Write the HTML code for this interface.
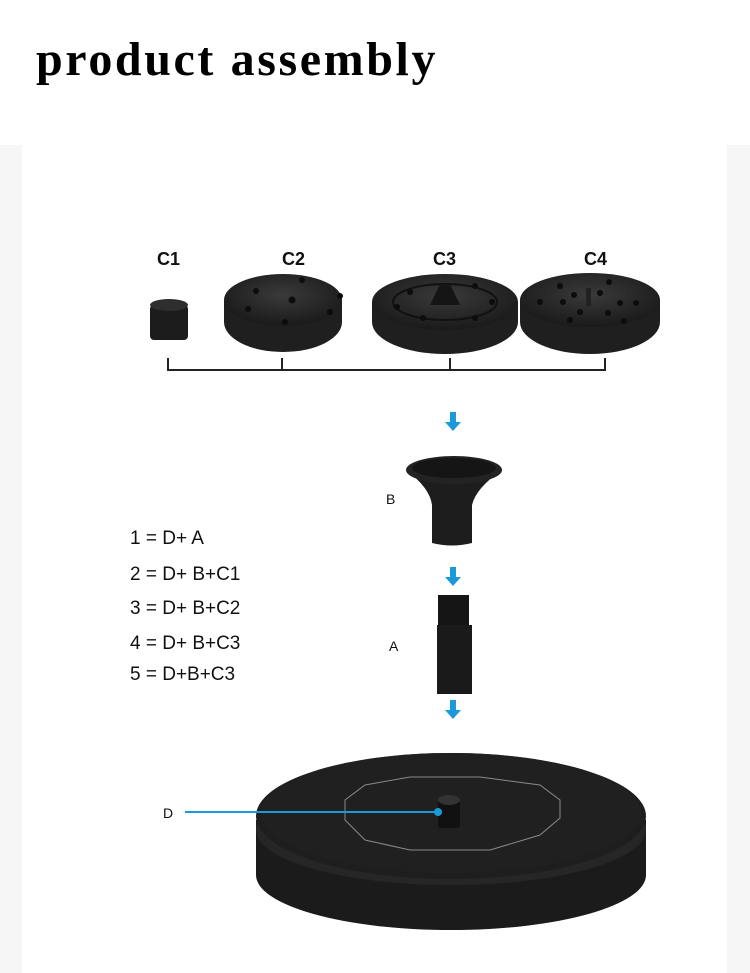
<!DOCTYPE html>
<html><head><meta charset="utf-8"><style>
html,body{margin:0;padding:0;background:#fff;}
body{width:750px;height:973px;overflow:hidden;position:relative;font-family:"Liberation Sans",sans-serif;}
.t{position:absolute;left:36px;top:32px;font:bold 48px "Liberation Serif",serif;color:#000;letter-spacing:2.6px;white-space:nowrap;}
.panel{position:absolute;left:0;top:145px;width:750px;height:828px;background:#f6f6f6;}
.inner{position:absolute;left:22px;top:145px;width:705px;height:828px;background:#fff;}
svg{position:absolute;left:0;top:0;}
</style></head><body>
<div class="panel"></div><div class="inner"></div>
<div class="t">product assembly</div>
<svg width="750" height="973" viewBox="0 0 750 973">
<defs>
<radialGradient id="g" cx="0.5" cy="0.4" r="0.6"><stop offset="0" stop-color="#3a3a3a"/><stop offset="1" stop-color="#1a1a1a"/></radialGradient>
<g id="arr"><rect x="-3" y="0" width="6" height="11" fill="#1a9ad8"/><polygon points="-8,10 8,10 0,19" fill="#1a9ad8"/></g>
</defs>
<g font-family="Liberation Sans,sans-serif" font-size="18" fill="#111" font-weight="bold">
<text x="157" y="265">C1</text><text x="282" y="265">C2</text><text x="433" y="265">C3</text><text x="584" y="265">C4</text>
</g>
<!-- C1 -->
<rect x="150" y="305" width="38" height="35" rx="4" fill="#1c1c1c"/>
<ellipse cx="169" cy="305" rx="19" ry="6" fill="#2e2e2e"/>
<!-- C2 -->
<path d="M224 300 v22 a59 30 0 0 0 118 0 v-22z" fill="#1f1f1f"/>
<ellipse cx="283" cy="300" rx="59" ry="26" fill="url(#g)"/>
<g fill="#0c0c0c"><circle cx="256" cy="291" r="3"/><circle cx="302" cy="280" r="3"/><circle cx="340" cy="296" r="3"/><circle cx="248" cy="309" r="3"/><circle cx="292" cy="300" r="3.5"/><circle cx="330" cy="312" r="3"/><circle cx="285" cy="322" r="3"/></g>
<!-- C3 -->
<path d="M372 302 v20 a73 32 0 0 0 146 0 v-20z" fill="#1f1f1f"/>
<ellipse cx="445" cy="302" rx="73" ry="28" fill="url(#g)"/>
<ellipse cx="445" cy="302" rx="52" ry="18" fill="none" stroke="#111" stroke-width="2"/>
<polygon points="440,284 450,284 460,305 430,305" fill="#151515"/>
<g fill="#0c0c0c"><circle cx="410" cy="292" r="3"/><circle cx="475" cy="286" r="3"/><circle cx="492" cy="302" r="3"/><circle cx="397" cy="307" r="3"/><circle cx="423" cy="318" r="3"/><circle cx="475" cy="318" r="3"/></g>
<!-- C4 -->
<path d="M520 300 v22 a70 32 0 0 0 140 0 v-22z" fill="#1f1f1f"/>
<ellipse cx="590" cy="300" rx="70" ry="27" fill="url(#g)"/>
<g fill="#0c0c0c"><circle cx="560" cy="286" r="3"/><circle cx="574" cy="295" r="3"/><circle cx="600" cy="293" r="3"/><circle cx="609" cy="282" r="3"/><circle cx="540" cy="302" r="3"/><circle cx="563" cy="302" r="3"/><circle cx="620" cy="303" r="3"/><circle cx="636" cy="303" r="3"/><circle cx="580" cy="312" r="3"/><circle cx="608" cy="313" r="3"/><circle cx="570" cy="320" r="3"/><circle cx="624" cy="321" r="3"/><rect x="586" y="288" width="5" height="18" fill="#222"/></g>
<!-- bracket -->
<path d="M168 358 V370 H605 V358 M282 358 V370 M450 358 V370" fill="none" stroke="#222" stroke-width="2"/>
<!-- arrows -->
<use href="#arr" x="453" y="412"/><use href="#arr" x="453" y="567"/><use href="#arr" x="453" y="700"/>
<!-- B funnel -->
<path d="M406 470 Q430 488 432 505 L432 543 Q452 548 472 543 L472 505 Q476 488 502 470z" fill="#1d1d1d"/>
<ellipse cx="454" cy="470" rx="48" ry="14" fill="#232323"/>
<ellipse cx="454" cy="468" rx="42" ry="10" fill="#151515"/>
<!-- A tube -->
<rect x="438" y="595" width="31" height="32" fill="#151515"/>
<rect x="437" y="625" width="35" height="69" fill="#1a1a1a"/>
<g font-family="Liberation Sans,sans-serif" font-size="14" fill="#111"><text x="386" y="504">B</text><text x="389" y="651">A</text><text x="163" y="818">D</text></g>
<g font-family="Liberation Sans,sans-serif" font-size="19" fill="#111">
<text x="130" y="544">1 = D+ A</text><text x="130" y="580">2 = D+ B+C1</text><text x="130" y="614">3 = D+ B+C2</text><text x="130" y="649">4 = D+ B+C3</text><text x="130" y="680">5 = D+B+C3</text>
</g>
<!-- D base -->
<path d="M256 820 v55 a195 55 0 0 0 390 0 v-55z" fill="#1b1b1b"/>
<ellipse cx="451" cy="830" rx="195" ry="55" fill="#262626"/>
<ellipse cx="451" cy="816" rx="195" ry="63" fill="#1e1e1e"/>
<ellipse cx="451" cy="813" rx="190" ry="60" fill="#202020"/>
<polygon points="365,785 410,777 480,777 540,785 560,800 560,818 540,835 490,850 410,850 365,840 345,820 345,800" fill="none" stroke="#8a8a8a" stroke-width="1"/>
<rect x="438" y="798" width="22" height="30" rx="3" fill="#111"/>
<ellipse cx="449" cy="800" rx="11" ry="5" fill="#333"/>
<line x1="185" y1="812" x2="438" y2="812" stroke="#1a9ad8" stroke-width="2"/>
<circle cx="438" cy="812" r="4" fill="#1a9ad8"/>
</svg>
</body></html>
